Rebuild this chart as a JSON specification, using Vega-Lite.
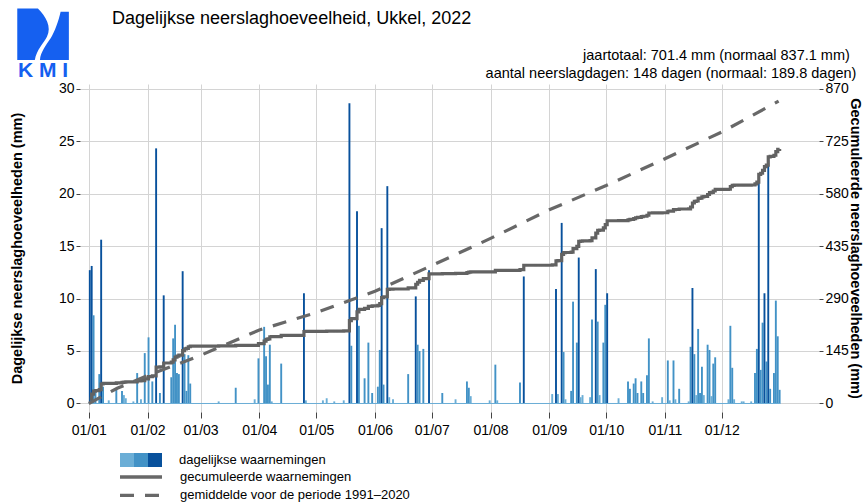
{
  "$schema": "https://vega.github.io/schema/vega-lite/v6.json",
  "width": 739,
  "height": 328,
  "autosize": {"type": "none"},
  "padding": {"left": 80, "top": 84, "right": 45, "bottom": 92},
  "background": "white",
  "config": {
    "font": "Liberation Sans",
    "view": {"stroke": null},
    "text": {"font": "Liberation Sans"},
    "legend": {"gradientLength": 42, "gradientThickness": 14}
  },
  "title": {
    "text": "Dagelijkse neerslaghoeveelheid, Ukkel, 2022",
    "anchor": "start",
    "frame": "group",
    "dx": 32,
    "offset": -20,
    "fontSize": 18,
    "fontWeight": "normal",
    "color": "black"
  },
  "datasets": {
    "neerslag": [
      {"d": "2022-01-01", "p": 12.7}, {"d": "2022-01-02", "p": 13.1}, {"d": "2022-01-03", "p": 8.4}, {"d": "2022-01-04", "p": 1.2},
      {"d": "2022-01-06", "p": 2.8}, {"d": "2022-01-07", "p": 15.6}, {"d": "2022-01-08", "p": 1.6}, {"d": "2022-01-11", "p": 0.3},
      {"d": "2022-01-15", "p": 1.3}, {"d": "2022-01-18", "p": 1.2}, {"d": "2022-01-19", "p": 0.8}, {"d": "2022-01-20", "p": 0.5},
      {"d": "2022-01-24", "p": 0.2}, {"d": "2022-01-26", "p": 2.9}, {"d": "2022-01-28", "p": 0.4}, {"d": "2022-01-30", "p": 4.8},
      {"d": "2022-02-01", "p": 6.3}, {"d": "2022-02-03", "p": 2.1}, {"d": "2022-02-05", "p": 24.3}, {"d": "2022-02-07", "p": 1.0},
      {"d": "2022-02-09", "p": 10.3}, {"d": "2022-02-13", "p": 2.5}, {"d": "2022-02-14", "p": 6.2}, {"d": "2022-02-15", "p": 7.5},
      {"d": "2022-02-16", "p": 2.9}, {"d": "2022-02-17", "p": 2.8}, {"d": "2022-02-19", "p": 12.6}, {"d": "2022-02-20", "p": 4.7},
      {"d": "2022-02-21", "p": 1.2}, {"d": "2022-02-22", "p": 4.6}, {"d": "2022-02-23", "p": 1.9},
      {"d": "2022-03-10", "p": 0.2}, {"d": "2022-03-19", "p": 1.5}, {"d": "2022-03-29", "p": 0.4}, {"d": "2022-03-31", "p": 4.3},
      {"d": "2022-04-03", "p": 7.3}, {"d": "2022-04-04", "p": 4.5}, {"d": "2022-04-05", "p": 1.8}, {"d": "2022-04-06", "p": 5.6},
      {"d": "2022-04-07", "p": 0.2}, {"d": "2022-04-12", "p": 3.8}, {"d": "2022-04-24", "p": 10.5}, {"d": "2022-04-25", "p": 0.3},
      {"d": "2022-05-04", "p": 0.3}, {"d": "2022-05-06", "p": 0.5}, {"d": "2022-05-10", "p": 0.2}, {"d": "2022-05-15", "p": 0.3},
      {"d": "2022-05-18", "p": 28.6}, {"d": "2022-05-19", "p": 5.5}, {"d": "2022-05-22", "p": 18.3}, {"d": "2022-05-23", "p": 7.4},
      {"d": "2022-05-26", "p": 2.4}, {"d": "2022-05-28", "p": 5.8}, {"d": "2022-05-30", "p": 1.0},
      {"d": "2022-06-02", "p": 1.6}, {"d": "2022-06-03", "p": 5.1}, {"d": "2022-06-04", "p": 16.7}, {"d": "2022-06-05", "p": 1.8},
      {"d": "2022-06-07", "p": 20.7}, {"d": "2022-06-08", "p": 0.6}, {"d": "2022-06-10", "p": 0.4}, {"d": "2022-06-18", "p": 2.8},
      {"d": "2022-06-22", "p": 10.2}, {"d": "2022-06-23", "p": 5.6}, {"d": "2022-06-24", "p": 5.0}, {"d": "2022-06-26", "p": 5.2},
      {"d": "2022-06-29", "p": 12.7},
      {"d": "2022-07-06", "p": 1.0}, {"d": "2022-07-13", "p": 0.4}, {"d": "2022-07-19", "p": 2.1}, {"d": "2022-07-20", "p": 1.5},
      {"d": "2022-07-21", "p": 0.7}, {"d": "2022-07-31", "p": 0.3},
      {"d": "2022-08-03", "p": 3.7}, {"d": "2022-08-04", "p": 0.3}, {"d": "2022-08-16", "p": 2.0}, {"d": "2022-08-18", "p": 12.1},
      {"d": "2022-09-02", "p": 0.9}, {"d": "2022-09-04", "p": 10.9}, {"d": "2022-09-05", "p": 0.9}, {"d": "2022-09-07", "p": 17.2},
      {"d": "2022-09-08", "p": 4.9}, {"d": "2022-09-09", "p": 0.4}, {"d": "2022-09-12", "p": 1.2}, {"d": "2022-09-13", "p": 9.7},
      {"d": "2022-09-15", "p": 5.8}, {"d": "2022-09-16", "p": 13.9}, {"d": "2022-09-17", "p": 0.6}, {"d": "2022-09-18", "p": 0.8},
      {"d": "2022-09-22", "p": 0.6}, {"d": "2022-09-23", "p": 8.0}, {"d": "2022-09-25", "p": 12.8}, {"d": "2022-09-26", "p": 7.8},
      {"d": "2022-09-27", "p": 0.8}, {"d": "2022-09-29", "p": 5.8}, {"d": "2022-09-30", "p": 9.4},
      {"d": "2022-10-01", "p": 10.5}, {"d": "2022-10-07", "p": 0.5}, {"d": "2022-10-12", "p": 2.1}, {"d": "2022-10-13", "p": 1.4},
      {"d": "2022-10-15", "p": 1.9}, {"d": "2022-10-16", "p": 2.4}, {"d": "2022-10-17", "p": 1.0}, {"d": "2022-10-19", "p": 2.1},
      {"d": "2022-10-20", "p": 1.0}, {"d": "2022-10-22", "p": 2.7}, {"d": "2022-10-23", "p": 6.2}, {"d": "2022-10-25", "p": 0.2},
      {"d": "2022-10-30", "p": 0.6},
      {"d": "2022-11-02", "p": 4.1}, {"d": "2022-11-03", "p": 0.3}, {"d": "2022-11-05", "p": 4.1}, {"d": "2022-11-06", "p": 0.4},
      {"d": "2022-11-08", "p": 1.4}, {"d": "2022-11-13", "p": 0.2}, {"d": "2022-11-14", "p": 5.4}, {"d": "2022-11-15", "p": 11.0},
      {"d": "2022-11-16", "p": 4.7}, {"d": "2022-11-17", "p": 0.8}, {"d": "2022-11-18", "p": 7.1}, {"d": "2022-11-19", "p": 1.0},
      {"d": "2022-11-20", "p": 3.5}, {"d": "2022-11-21", "p": 0.8}, {"d": "2022-11-23", "p": 5.6}, {"d": "2022-11-24", "p": 5.1},
      {"d": "2022-11-25", "p": 0.7}, {"d": "2022-11-26", "p": 3.8}, {"d": "2022-11-27", "p": 4.4},
      {"d": "2022-12-04", "p": 0.4}, {"d": "2022-12-05", "p": 7.4}, {"d": "2022-12-06", "p": 3.4}, {"d": "2022-12-07", "p": 0.4},
      {"d": "2022-12-11", "p": 0.2}, {"d": "2022-12-12", "p": 0.2}, {"d": "2022-12-16", "p": 0.2}, {"d": "2022-12-18", "p": 2.9},
      {"d": "2022-12-19", "p": 5.2}, {"d": "2022-12-20", "p": 21.2}, {"d": "2022-12-21", "p": 3.2}, {"d": "2022-12-22", "p": 7.7},
      {"d": "2022-12-23", "p": 10.5}, {"d": "2022-12-24", "p": 4.0}, {"d": "2022-12-25", "p": 23.2}, {"d": "2022-12-26", "p": 1.4},
      {"d": "2022-12-28", "p": 2.9}, {"d": "2022-12-29", "p": 9.8}, {"d": "2022-12-30", "p": 6.4}, {"d": "2022-12-31", "p": 1.3}
    ],
    "normaal": [
      {"d": "2022-01-01", "v": 0}, {"d": "2022-01-16", "v": 42}, {"d": "2022-02-01", "v": 77}, {"d": "2022-03-01", "v": 133},
      {"d": "2022-04-01", "v": 203}, {"d": "2022-05-01", "v": 251}, {"d": "2022-06-01", "v": 310}, {"d": "2022-07-01", "v": 381},
      {"d": "2022-08-01", "v": 456}, {"d": "2022-09-01", "v": 535}, {"d": "2022-10-01", "v": 602}, {"d": "2022-11-01", "v": 676},
      {"d": "2022-12-01", "v": 750}, {"d": "2022-12-31", "v": 835}
    ]
  },
  "layer": [
    {
      "layer": [
        {
          "data": {"name": "neerslag"},
          "mark": {"type": "bar", "width": 1.9, "xOffset": 1},
          "encoding": {
            "x": {
              "field": "d", "type": "temporal", "title": null,
              "scale": {"type": "utc", "domain": [{"year": 2021, "month": 12, "date": 30, "utc": true}, {"year": 2023, "month": 1, "date": 18, "hours": 16, "utc": true}]},
              "axis": {
                "title": null,
                "values": [
                  {"year": 2022, "month": 1, "date": 1, "utc": true}, {"year": 2022, "month": 2, "date": 1, "utc": true},
                  {"year": 2022, "month": 3, "date": 1, "utc": true}, {"year": 2022, "month": 4, "date": 1, "utc": true},
                  {"year": 2022, "month": 5, "date": 1, "utc": true}, {"year": 2022, "month": 6, "date": 1, "utc": true},
                  {"year": 2022, "month": 7, "date": 1, "utc": true}, {"year": 2022, "month": 8, "date": 1, "utc": true},
                  {"year": 2022, "month": 9, "date": 1, "utc": true}, {"year": 2022, "month": 10, "date": 1, "utc": true},
                  {"year": 2022, "month": 11, "date": 1, "utc": true}, {"year": 2022, "month": 12, "date": 1, "utc": true}
                ],
                "format": "%d/%m",
                "grid": true, "gridColor": "#d4d4d4", "gridWidth": 1,
                "domain": false, "tickColor": "#444", "tickSize": 6,
                "labelFontSize": 14, "labelColor": "black", "labelPadding": 5,
                "labelFlush": false, "labelOverlap": false, "labelBound": false
              }
            },
            "y": {
              "field": "p", "type": "quantitative",
              "title": "Dagelijkse neerslaghoeveelheden (mm)",
              "scale": {"domain": [-0.81, 30.43], "nice": false},
              "axis": {
                "values": [0, 5, 10, 15, 20, 25, 30],
                "title": "Dagelijkse neerslaghoeveelheden (mm)",
                "titleFontSize": 14.5, "titleFontWeight": "bold", "titleColor": "black", "titlePadding": 34,
                "grid": true, "gridColor": "#d4d4d4", "gridWidth": 1,
                "domain": false, "tickColor": "#444", "tickSize": 4,
                "labelFontSize": 14, "labelColor": "black", "labelPadding": 2
              }
            },
            "color": {
              "field": "p", "type": "quantitative",
              "scale": {"type": "threshold", "domain": [1, 10], "range": ["#6baed6", "#4292c6", "#08519c"]},
              "legend": {
                "orient": "none", "legendX": 40, "legendY": 369, "direction": "horizontal",
                "title": "dagelijkse waarnemingen", "titleOrient": "right", "titleFontSize": 13, "titleFontWeight": "normal",
                "titleColor": "black", "titlePadding": 17,
                "gradientLength": 42, "gradientThickness": 14, "gradientStrokeWidth": 0,
                "labelExpr": "''", "labelOpacity": 0, "padding": 0
              }
            }
          }
        },
        {
          "data": {"values": [{}]},
          "mark": {"type": "rule", "color": "#6baed6", "strokeWidth": 1},
          "encoding": {
            "x": {"datum": {"year": 2022, "month": 1, "date": 1, "utc": true}, "type": "temporal", "title": null},
            "x2": {"datum": {"year": 2023, "month": 1, "date": 1, "utc": true}},
            "y": {"datum": 0, "type": "quantitative", "title": "Dagelijkse neerslaghoeveelheden (mm)"}
          }
        },
        {
          "data": {"values": [{}]},
          "mark": {
            "type": "point",
            "shape": "M-1,-1L-0.2,-1C0.1,-0.7 0.35,-0.3 0.15,0.1C0.02,0.35 -0.25,0.6 -0.32,1L-1,1ZM0.68,-0.87L1,-0.87L1,1L-0.12,1C-0.1,0.7 0.1,0.45 0.3,0.15C0.45,-0.1 0.6,-0.5 0.68,-0.87Z",
            "filled": true, "size": 2663, "color": "#1560f0", "opacity": 1, "strokeWidth": 0
          },
          "encoding": {
            "x": {"datum": {"year": 2021, "month": 12, "date": 7, "hours": 21, "utc": true}, "type": "temporal", "title": null},
            "y": {"datum": 35.17, "type": "quantitative", "title": "Dagelijkse neerslaghoeveelheden (mm)"}
          }
        },
        {
          "data": {"values": [{}]},
          "mark": {"type": "text", "text": "K M I", "fontSize": 21, "fontWeight": "bold", "color": "#1560f0", "align": "center", "baseline": "alphabetic"},
          "encoding": {
            "x": {"datum": {"year": 2021, "month": 12, "date": 7, "hours": 21, "utc": true}, "type": "temporal", "title": null},
            "y": {"datum": 31.07, "type": "quantitative", "title": "Dagelijkse neerslaghoeveelheden (mm)"}
          }
        },
        {
          "data": {"values": [{}]},
          "mark": {"type": "text", "text": "jaartotaal: 701.4 mm (normaal 837.1 mm)", "fontSize": 14.5, "color": "black", "align": "right", "baseline": "alphabetic"},
          "encoding": {
            "x": {"datum": {"year": 2023, "month": 2, "date": 6, "hours": 13, "minutes": 40, "utc": true}, "type": "temporal", "title": null},
            "y": {"datum": 32.67, "type": "quantitative", "title": "Dagelijkse neerslaghoeveelheden (mm)"}
          }
        },
        {
          "data": {"values": [{}]},
          "mark": {"type": "text", "text": "aantal neerslagdagen: 148 dagen (normaal: 189.8 dagen)", "fontSize": 14.5, "color": "black", "align": "right", "baseline": "alphabetic"},
          "encoding": {
            "x": {"datum": {"year": 2023, "month": 2, "date": 10, "hours": 1, "minutes": 10, "utc": true}, "type": "temporal", "title": null},
            "y": {"datum": 30.97, "type": "quantitative", "title": "Dagelijkse neerslaghoeveelheden (mm)"}
          }
        }
      ]
    },
    {
      "layer": [
        {
          "data": {"name": "neerslag"},
          "transform": [{"window": [{"op": "sum", "field": "p", "as": "cum"}], "sort": [{"field": "d", "order": "ascending"}]}],
          "mark": {"type": "line", "interpolate": "step-after", "strokeWidth": 3.2, "color": "#626262", "xOffset": 1},
          "encoding": {
            "x": {"field": "d", "type": "temporal", "title": null},
            "y": {
              "field": "cum", "type": "quantitative",
              "title": "Gecumuleerde neerslaghoeveelheden (mm)",
              "scale": {"domain": [-23.49, 882.47], "nice": false},
              "axis": {
                "orient": "right",
                "values": [0, 145, 290, 435, 580, 725, 870],
                "title": "Gecumuleerde neerslaghoeveelheden (mm)",
                "titleFontSize": 14.5, "titleFontWeight": "bold", "titleColor": "black", "titlePadding": -1,
                "grid": false, "domain": false, "tickColor": "#444", "tickSize": 4,
                "labelFontSize": 14, "labelColor": "black", "labelPadding": 2
              }
            },
            "strokeDash": {
              "datum": "gecumuleerde waarnemingen", "type": "nominal",
              "scale": {"domain": ["gecumuleerde waarnemingen", "gemiddelde voor de periode 1991–2020"], "range": [[1, 0], [14, 11]]},
              "legend": {
                "orient": "none", "legendX": 54, "legendY": 386, "direction": "vertical", "title": null,
                "symbolType": "M-4.2,0H4.2", "symbolSize": 100, "symbolStrokeWidth": 3.3, "symbolStrokeColor": "#5a5a5a",
                "labelOffset": 32, "rowPadding": 4.3, "padding": 0, "labelLimit": 400,
                "labelFontSize": 13, "labelColor": "black"
              }
            }
          }
        },
        {
          "data": {"name": "normaal"},
          "mark": {"type": "line", "strokeWidth": 3.2, "color": "#686868"},
          "encoding": {
            "x": {"field": "d", "type": "temporal", "title": null},
            "y": {"field": "v", "type": "quantitative", "title": "Gecumuleerde neerslaghoeveelheden (mm)"},
            "strokeDash": {"datum": "gemiddelde voor de periode 1991–2020", "type": "nominal"}
          }
        }
      ]
    }
  ],
  "resolve": {"scale": {"y": "independent"}}
}
